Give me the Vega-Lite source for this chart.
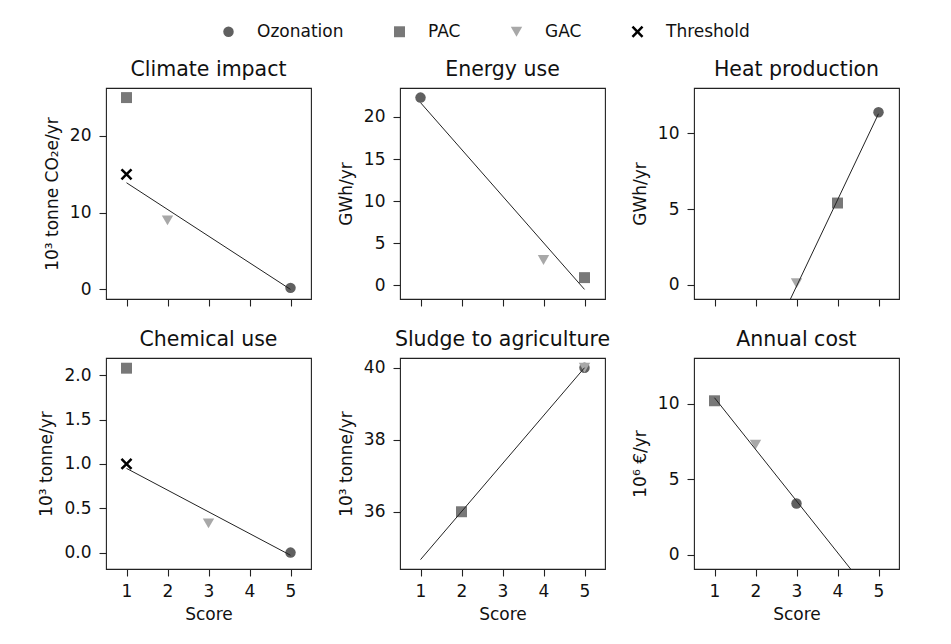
{
  "$schema": "https://vega.github.io/schema/vega-lite/v6.json",
  "background": "white",
  "padding": {"left": 36, "top": 23, "right": 5, "bottom": 5},
  "datasets": {
    "points": [
      {"panel": "Climate impact", "method": "Ozonation", "score": 5, "value": 0.2},
      {"panel": "Climate impact", "method": "PAC", "score": 1, "value": 25},
      {"panel": "Climate impact", "method": "GAC", "score": 2, "value": 9.0},
      {"panel": "Climate impact", "method": "Threshold", "score": 1, "value": 15},
      {"panel": "Energy use", "method": "Ozonation", "score": 1, "value": 22.3},
      {"panel": "Energy use", "method": "PAC", "score": 5, "value": 0.9},
      {"panel": "Energy use", "method": "GAC", "score": 4, "value": 3.0},
      {"panel": "Heat production", "method": "Ozonation", "score": 5, "value": 11.4},
      {"panel": "Heat production", "method": "PAC", "score": 4, "value": 5.4},
      {"panel": "Heat production", "method": "GAC", "score": 3, "value": 0.1},
      {"panel": "Chemical use", "method": "Ozonation", "score": 5, "value": 0.0},
      {"panel": "Chemical use", "method": "PAC", "score": 1, "value": 2.08},
      {"panel": "Chemical use", "method": "GAC", "score": 3, "value": 0.33},
      {"panel": "Chemical use", "method": "Threshold", "score": 1, "value": 1.0},
      {"panel": "Sludge to agriculture", "method": "Ozonation", "score": 5, "value": 40.0},
      {"panel": "Sludge to agriculture", "method": "PAC", "score": 2, "value": 36.0},
      {"panel": "Sludge to agriculture", "method": "GAC", "score": 5, "value": 40.0},
      {"panel": "Annual cost", "method": "Ozonation", "score": 3, "value": 3.4},
      {"panel": "Annual cost", "method": "PAC", "score": 1, "value": 10.2},
      {"panel": "Annual cost", "method": "GAC", "score": 2, "value": 7.3}
    ],
    "fits": [
      {"panel": "Climate impact", "score": 1, "value": 13.9},
      {"panel": "Climate impact", "score": 5, "value": 0.0},
      {"panel": "Energy use", "score": 1, "value": 21.7},
      {"panel": "Energy use", "score": 5, "value": -0.5},
      {"panel": "Heat production", "score": 1, "value": -11.5},
      {"panel": "Heat production", "score": 5, "value": 11.3},
      {"panel": "Chemical use", "score": 1, "value": 0.95},
      {"panel": "Chemical use", "score": 5, "value": -0.03},
      {"panel": "Sludge to agriculture", "score": 1, "value": 34.67},
      {"panel": "Sludge to agriculture", "score": 5, "value": 40.0},
      {"panel": "Annual cost", "score": 1, "value": 10.4},
      {"panel": "Annual cost", "score": 5, "value": -3.25}
    ]
  },
  "columns": 3,
  "bounds": "flush",
  "spacing": {"column": 89, "row": 59},
  "concat": [
    {
      "width": 205, "height": 211,
      "title": {"text": "Climate impact"},
      "layer": [
        {
          "data": {"name": "points"},
          "transform": [{"filter": "datum.panel === 'Climate impact'"}],
          "mark": {"type": "point", "filled": true, "opacity": 1},
          "encoding": {
            "x": {"field": "score", "type": "quantitative", "scale": {"domain": [0.5, 5.5], "nice": false}, "axis": {"values": [1, 2, 3, 4, 5], "labels": false, "title": null}},
            "y": {"field": "value", "type": "quantitative", "scale": {"domain": [-1.25, 26.25], "nice": false, "zero": false}, "axis": {"values": [0, 10, 20], "title": "10³ tonne CO₂e/yr"}},
            "color": {"field": "method", "type": "nominal", "scale": {"domain": ["Ozonation", "PAC", "GAC", "Threshold"], "range": ["#606060", "#787878", "#a8a8a8", "#000000"]}, "legend": {"title": null, "orient": "none", "legendX": 114, "legendY": -65, "direction": "horizontal", "columns": 4}},
            "shape": {"field": "method", "type": "nominal", "scale": {"domain": ["Ozonation", "PAC", "GAC", "Threshold"], "range": ["circle", "square", "triangle-down", "M-1,-0.7L-0.7,-1L0,-0.3L0.7,-1L1,-0.7L0.3,0L1,0.7L0.7,1L0,0.3L-0.7,1L-1,0.7L-0.3,0Z"]}, "legend": {"title": null, "orient": "none", "legendX": 114, "legendY": -65, "direction": "horizontal", "columns": 4}},
            "size": {"field": "method", "type": "nominal", "scale": {"domain": ["Ozonation", "PAC", "GAC", "Threshold"], "range": [110, 140, 150, 120]}, "legend": {"title": null, "orient": "none", "legendX": 114, "legendY": -65, "direction": "horizontal", "columns": 4}}
          }
        },
        {
          "data": {"name": "fits"},
          "transform": [{"filter": "datum.panel === 'Climate impact'"}],
          "mark": {"type": "line", "clip": true, "color": "#222222", "strokeWidth": 1},
          "encoding": {"x": {"field": "score", "type": "quantitative"}, "y": {"field": "value", "type": "quantitative"}}
        }
      ]
    },
    {
      "width": 205, "height": 211,
      "title": {"text": "Energy use"},
      "layer": [
        {
          "data": {"name": "points"},
          "transform": [{"filter": "datum.panel === 'Energy use'"}],
          "mark": {"type": "point", "filled": true, "opacity": 1},
          "encoding": {
            "x": {"field": "score", "type": "quantitative", "scale": {"domain": [0.5, 5.5], "nice": false}, "axis": {"values": [1, 2, 3, 4, 5], "labels": false, "title": null}},
            "y": {"field": "value", "type": "quantitative", "scale": {"domain": [-1.64, 23.44], "nice": false, "zero": false}, "axis": {"values": [0, 5, 10, 15, 20], "title": "GWh/yr"}},
            "color": {"field": "method", "type": "nominal", "scale": {"domain": ["Ozonation", "PAC", "GAC", "Threshold"], "range": ["#606060", "#787878", "#a8a8a8", "#000000"]}, "legend": {"title": null, "orient": "none", "legendX": 114, "legendY": -65, "direction": "horizontal", "columns": 4}},
            "shape": {"field": "method", "type": "nominal", "scale": {"domain": ["Ozonation", "PAC", "GAC", "Threshold"], "range": ["circle", "square", "triangle-down", "M-1,-0.7L-0.7,-1L0,-0.3L0.7,-1L1,-0.7L0.3,0L1,0.7L0.7,1L0,0.3L-0.7,1L-1,0.7L-0.3,0Z"]}, "legend": {"title": null, "orient": "none", "legendX": 114, "legendY": -65, "direction": "horizontal", "columns": 4}},
            "size": {"field": "method", "type": "nominal", "scale": {"domain": ["Ozonation", "PAC", "GAC", "Threshold"], "range": [110, 140, 150, 120]}, "legend": {"title": null, "orient": "none", "legendX": 114, "legendY": -65, "direction": "horizontal", "columns": 4}}
          }
        },
        {
          "data": {"name": "fits"},
          "transform": [{"filter": "datum.panel === 'Energy use'"}],
          "mark": {"type": "line", "clip": true, "color": "#222222", "strokeWidth": 1},
          "encoding": {"x": {"field": "score", "type": "quantitative"}, "y": {"field": "value", "type": "quantitative"}}
        }
      ]
    },
    {
      "width": 205, "height": 211,
      "title": {"text": "Heat production"},
      "layer": [
        {
          "data": {"name": "points"},
          "transform": [{"filter": "datum.panel === 'Heat production'"}],
          "mark": {"type": "point", "filled": true, "opacity": 1},
          "encoding": {
            "x": {"field": "score", "type": "quantitative", "scale": {"domain": [0.5, 5.5], "nice": false}, "axis": {"values": [1, 2, 3, 4, 5], "labels": false, "title": null}},
            "y": {"field": "value", "type": "quantitative", "scale": {"domain": [-0.94, 13.0], "nice": false, "zero": false}, "axis": {"values": [0, 5, 10], "title": "GWh/yr"}},
            "color": {"field": "method", "type": "nominal", "scale": {"domain": ["Ozonation", "PAC", "GAC", "Threshold"], "range": ["#606060", "#787878", "#a8a8a8", "#000000"]}, "legend": {"title": null, "orient": "none", "legendX": 114, "legendY": -65, "direction": "horizontal", "columns": 4}},
            "shape": {"field": "method", "type": "nominal", "scale": {"domain": ["Ozonation", "PAC", "GAC", "Threshold"], "range": ["circle", "square", "triangle-down", "M-1,-0.7L-0.7,-1L0,-0.3L0.7,-1L1,-0.7L0.3,0L1,0.7L0.7,1L0,0.3L-0.7,1L-1,0.7L-0.3,0Z"]}, "legend": {"title": null, "orient": "none", "legendX": 114, "legendY": -65, "direction": "horizontal", "columns": 4}},
            "size": {"field": "method", "type": "nominal", "scale": {"domain": ["Ozonation", "PAC", "GAC", "Threshold"], "range": [110, 140, 150, 120]}, "legend": {"title": null, "orient": "none", "legendX": 114, "legendY": -65, "direction": "horizontal", "columns": 4}}
          }
        },
        {
          "data": {"name": "fits"},
          "transform": [{"filter": "datum.panel === 'Heat production'"}],
          "mark": {"type": "line", "clip": true, "color": "#222222", "strokeWidth": 1},
          "encoding": {"x": {"field": "score", "type": "quantitative"}, "y": {"field": "value", "type": "quantitative"}}
        }
      ]
    },
    {
      "width": 205, "height": 211,
      "title": {"text": "Chemical use"},
      "layer": [
        {
          "data": {"name": "points"},
          "transform": [{"filter": "datum.panel === 'Chemical use'"}],
          "mark": {"type": "point", "filled": true, "opacity": 1},
          "encoding": {
            "x": {"field": "score", "type": "quantitative", "scale": {"domain": [0.5, 5.5], "nice": false}, "axis": {"values": [1, 2, 3, 4, 5], "title": "Score"}},
            "y": {"field": "value", "type": "quantitative", "scale": {"domain": [-0.185, 2.195], "nice": false, "zero": false}, "axis": {"values": [0, 0.5, 1, 1.5, 2], "format": ".1f", "title": "10³ tonne/yr", "minExtent": 44, "maxExtent": 44}},
            "color": {"field": "method", "type": "nominal", "scale": {"domain": ["Ozonation", "PAC", "GAC", "Threshold"], "range": ["#606060", "#787878", "#a8a8a8", "#000000"]}, "legend": {"title": null, "orient": "none", "legendX": 114, "legendY": -65, "direction": "horizontal", "columns": 4}},
            "shape": {"field": "method", "type": "nominal", "scale": {"domain": ["Ozonation", "PAC", "GAC", "Threshold"], "range": ["circle", "square", "triangle-down", "M-1,-0.7L-0.7,-1L0,-0.3L0.7,-1L1,-0.7L0.3,0L1,0.7L0.7,1L0,0.3L-0.7,1L-1,0.7L-0.3,0Z"]}, "legend": {"title": null, "orient": "none", "legendX": 114, "legendY": -65, "direction": "horizontal", "columns": 4}},
            "size": {"field": "method", "type": "nominal", "scale": {"domain": ["Ozonation", "PAC", "GAC", "Threshold"], "range": [110, 140, 150, 120]}, "legend": {"title": null, "orient": "none", "legendX": 114, "legendY": -65, "direction": "horizontal", "columns": 4}}
          }
        },
        {
          "data": {"name": "fits"},
          "transform": [{"filter": "datum.panel === 'Chemical use'"}],
          "mark": {"type": "line", "clip": true, "color": "#222222", "strokeWidth": 1},
          "encoding": {"x": {"field": "score", "type": "quantitative"}, "y": {"field": "value", "type": "quantitative"}}
        }
      ]
    },
    {
      "width": 205, "height": 211,
      "title": {"text": "Sludge to agriculture"},
      "layer": [
        {
          "data": {"name": "points"},
          "transform": [{"filter": "datum.panel === 'Sludge to agriculture'"}],
          "mark": {"type": "point", "filled": true, "opacity": 1},
          "encoding": {
            "x": {"field": "score", "type": "quantitative", "scale": {"domain": [0.5, 5.5], "nice": false}, "axis": {"values": [1, 2, 3, 4, 5], "title": "Score"}},
            "y": {"field": "value", "type": "quantitative", "scale": {"domain": [34.41, 40.27], "nice": false, "zero": false}, "axis": {"values": [36, 38, 40], "title": "10³ tonne/yr"}},
            "color": {"field": "method", "type": "nominal", "scale": {"domain": ["Ozonation", "PAC", "GAC", "Threshold"], "range": ["#606060", "#787878", "#a8a8a8", "#000000"]}, "legend": {"title": null, "orient": "none", "legendX": 114, "legendY": -65, "direction": "horizontal", "columns": 4}},
            "shape": {"field": "method", "type": "nominal", "scale": {"domain": ["Ozonation", "PAC", "GAC", "Threshold"], "range": ["circle", "square", "triangle-down", "M-1,-0.7L-0.7,-1L0,-0.3L0.7,-1L1,-0.7L0.3,0L1,0.7L0.7,1L0,0.3L-0.7,1L-1,0.7L-0.3,0Z"]}, "legend": {"title": null, "orient": "none", "legendX": 114, "legendY": -65, "direction": "horizontal", "columns": 4}},
            "size": {"field": "method", "type": "nominal", "scale": {"domain": ["Ozonation", "PAC", "GAC", "Threshold"], "range": [110, 140, 150, 120]}, "legend": {"title": null, "orient": "none", "legendX": 114, "legendY": -65, "direction": "horizontal", "columns": 4}}
          }
        },
        {
          "data": {"name": "fits"},
          "transform": [{"filter": "datum.panel === 'Sludge to agriculture'"}],
          "mark": {"type": "line", "clip": true, "color": "#222222", "strokeWidth": 1},
          "encoding": {"x": {"field": "score", "type": "quantitative"}, "y": {"field": "value", "type": "quantitative"}}
        }
      ]
    },
    {
      "width": 205, "height": 211,
      "title": {"text": "Annual cost"},
      "layer": [
        {
          "data": {"name": "points"},
          "transform": [{"filter": "datum.panel === 'Annual cost'"}],
          "mark": {"type": "point", "filled": true, "opacity": 1},
          "encoding": {
            "x": {"field": "score", "type": "quantitative", "scale": {"domain": [0.5, 5.5], "nice": false}, "axis": {"values": [1, 2, 3, 4, 5], "title": "Score"}},
            "y": {"field": "value", "type": "quantitative", "scale": {"domain": [-0.93, 13.03], "nice": false, "zero": false}, "axis": {"values": [0, 5, 10], "title": "10⁶ €/yr"}},
            "color": {"field": "method", "type": "nominal", "scale": {"domain": ["Ozonation", "PAC", "GAC", "Threshold"], "range": ["#606060", "#787878", "#a8a8a8", "#000000"]}, "legend": {"title": null, "orient": "none", "legendX": 114, "legendY": -65, "direction": "horizontal", "columns": 4}},
            "shape": {"field": "method", "type": "nominal", "scale": {"domain": ["Ozonation", "PAC", "GAC", "Threshold"], "range": ["circle", "square", "triangle-down", "M-1,-0.7L-0.7,-1L0,-0.3L0.7,-1L1,-0.7L0.3,0L1,0.7L0.7,1L0,0.3L-0.7,1L-1,0.7L-0.3,0Z"]}, "legend": {"title": null, "orient": "none", "legendX": 114, "legendY": -65, "direction": "horizontal", "columns": 4}},
            "size": {"field": "method", "type": "nominal", "scale": {"domain": ["Ozonation", "PAC", "GAC", "Threshold"], "range": [110, 140, 150, 120]}, "legend": {"title": null, "orient": "none", "legendX": 114, "legendY": -65, "direction": "horizontal", "columns": 4}}
          }
        },
        {
          "data": {"name": "fits"},
          "transform": [{"filter": "datum.panel === 'Annual cost'"}],
          "mark": {"type": "line", "clip": true, "color": "#222222", "strokeWidth": 1},
          "encoding": {"x": {"field": "score", "type": "quantitative"}, "y": {"field": "value", "type": "quantitative"}}
        }
      ]
    }
  ],
  "config": {
    "font": "DejaVu Sans",
    "view": {"stroke": "#222222", "strokeWidth": 1.1},
    "title": {"font": "DejaVu Sans", "fontSize": 20.5, "fontWeight": "normal", "color": "#111111", "anchor": "middle", "baseline": "alphabetic", "offset": 7.5},
    "axis": {"labelFont": "DejaVu Sans", "labelFontSize": 17, "labelColor": "#111111", "titleFont": "DejaVu Sans", "titleFontSize": 17, "titleFontWeight": "normal", "titleColor": "#111111", "tickColor": "#222222", "tickSize": 7, "tickWidth": 1.1, "grid": false, "domain": false, "titlePadding": 7},
    "axisX": {"labelAngle": 0, "labelPadding": 7},
    "axisY": {"labelPadding": 8, "minExtent": 38, "maxExtent": 38},
    "legend": {"labelFont": "DejaVu Sans", "labelFontSize": 17, "labelColor": "#111111", "labelOffset": 20, "columnPadding": 47, "symbolStrokeWidth": 0}
  }
}
